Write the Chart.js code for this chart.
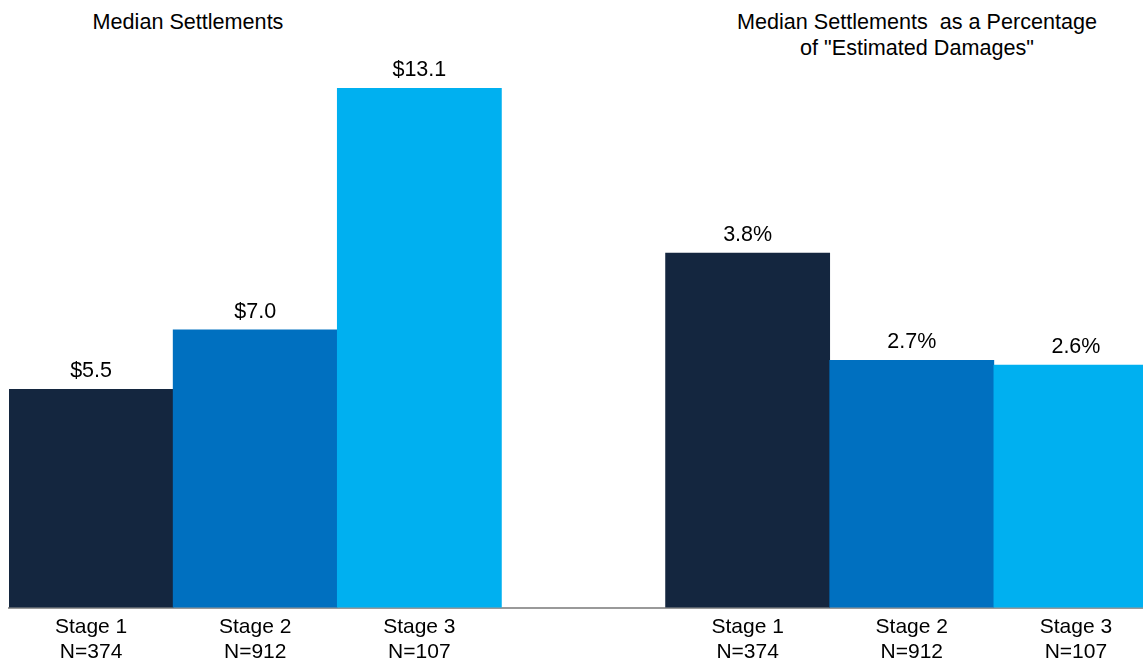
<!DOCTYPE html>
<html>
<head>
<meta charset="utf-8">
<script src="https://cdn.jsdelivr.net/npm/chart.js@4"></script>
<style>
  html, body { margin: 0; padding: 0; background: #fff; overflow: hidden; width: 1143px; height: 661px; }
  .title {
    position: absolute; font-family: "Liberation Sans", Arial, sans-serif; font-size: 21.6px;
    color: #000; text-align: center; white-space: pre; line-height: 26px;
  }
  #chart { position: absolute; left: 0; top: 0; }
</style>
</head>
<body>
<div class="title" style="left:88px; top:9px; width:200px;">Median Settlements</div>
<div class="title" style="left:717px; top:9px; width:400px;">Median Settlements  as a Percentage
of "Estimated Damages"</div>
<canvas id="chart" width="1160" height="674"></canvas>
<script>
var stages = [['Stage 1', 'N=374'], ['Stage 2', 'N=912'], ['Stage 3', 'N=107']];
var settlements = [5.5, 7.0, 13.1];           // $ millions
var pctDamages = [3.8, 2.65, 2.6];             // % of estimated damages
var pctLabels = ['3.8%', '2.7%', '2.6%'];
var barColors = ['#14263f', '#0070c0', '#00b0f0'];

var font = "'Liberation Sans', Arial, sans-serif";

// seven slots: left group, an empty gap, right group
var categories = stages.concat([''], stages);
var leftData = settlements.concat([null, null, null, null]);
var rightData = [null, null, null, null].concat(pctDamages);
var leftText = settlements.map(function (v) { return '$' + v.toFixed(1); });

var valueLabels = {
    id: 'valueLabels',
    afterDatasetsDraw: function (chart) {
        var ctx = chart.ctx;
        ctx.save();
        ctx.font = '21.5px ' + font;
        ctx.fillStyle = '#000';
        ctx.textAlign = 'center';
        ctx.textBaseline = 'alphabetic';
        chart.data.datasets.forEach(function (ds, di) {
            var meta = chart.getDatasetMeta(di);
            var texts = di === 0 ? leftText : pctLabels;
            var k = 0;
            meta.data.forEach(function (bar, i) {
                if (ds.data[i] === null) return;
                ctx.fillText(texts[k++], bar.x, bar.y - 12);
            });
        });
        ctx.restore();
    }
};

new Chart(document.getElementById('chart').getContext('2d'), {
    type: 'bar',
    data: {
        labels: categories,
        datasets: [
            {
                data: leftData,
                yAxisID: 'yL',
                backgroundColor: barColors.concat(['#fff'], barColors),
                borderWidth: 0
            },
            {
                data: rightData,
                yAxisID: 'yR',
                backgroundColor: barColors.concat(['#fff'], barColors),
                borderWidth: 0
            }
        ]
    },
    options: {
        responsive: false,
        animation: false,
        grouped: false,
        categoryPercentage: 1,
        barPercentage: 1,
        layout: { padding: { left: 9, right: 2, top: 88, bottom: 2 } },
        plugins: { legend: { display: false }, tooltip: { enabled: false } },
        scales: {
            x: {
                grid: { display: false, drawTicks: false },
                border: { display: true, color: '#999', width: 2 },
                ticks: {
                    color: '#000',
                    padding: 7,
                    maxRotation: 0,
                    autoSkip: false,
                    font: { family: font, size: 21 }
                }
            },
            yL: { display: false, min: 0, max: 13.1 },
            yR: { display: false, min: 0, max: 5.57 }
        }
    },
    plugins: [valueLabels]
});
</script>
</body>
</html>
